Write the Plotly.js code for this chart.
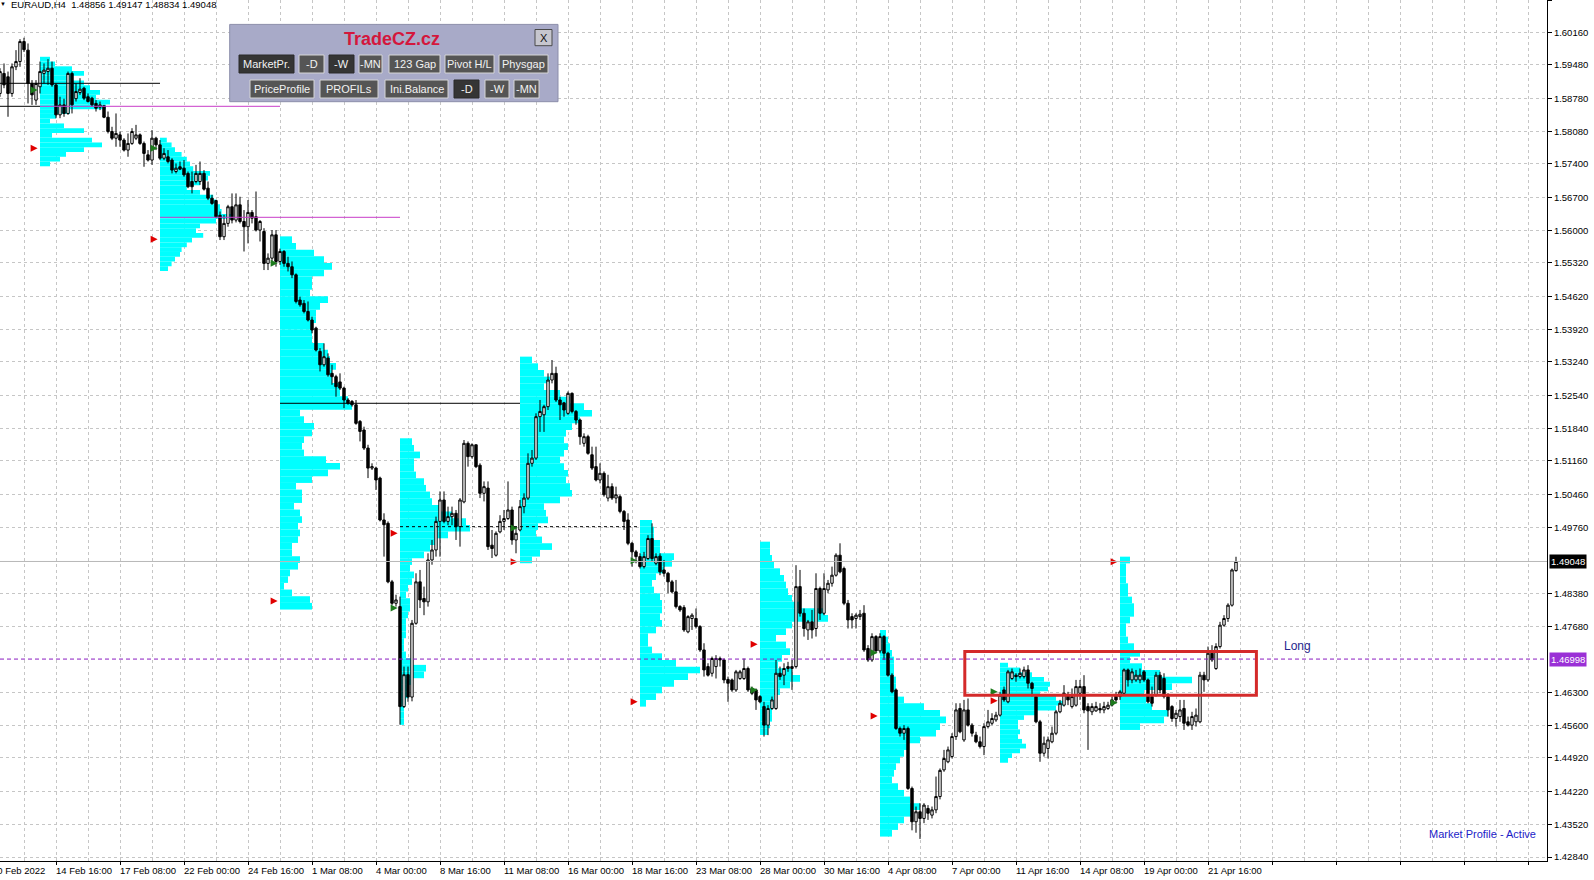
<!DOCTYPE html>
<html><head><meta charset="utf-8">
<script src="https://cdn.plot.ly/plotly-3.0.1.min.js"></script>
<style>html,body{margin:0;padding:0;background:#fff;overflow:hidden}#chart{width:1594px;height:880px}</style>
</head><body><div id="chart"></div>
<script>
// ---------------- DATA ----------------
const symbolName = 'EURAUD,H4';
const lastQuote = ['1.48856', '1.49147', '1.48834', '1.49048'];
const firstBar = 2; // index of first H4 bar in the arrays (10 Feb 2022 00:00 = 0)

const openP = [
1.5888,1.5930,1.5923,1.5888,1.5944,1.5955,1.5997,1.5979,1.5909,1.5874,
1.5902,1.5930,1.5934,1.5941,1.5906,1.5843,1.5864,1.5846,1.5930,1.5877,
1.5890,1.5899,1.5881,1.5878,1.5867,1.5859,1.5862,1.5838,1.5808,1.5794,
1.5801,1.5790,1.5769,1.5783,1.5794,1.5801,1.5783,1.5759,1.5748,1.5794,
1.5780,1.5752,1.5755,1.5748,1.5724,1.5734,1.5731,1.5720,1.5703,1.5703,
1.5703,1.5720,1.5689,1.5668,1.5663,1.5632,1.5587,1.5615,1.5650,1.5622,
1.5654,1.5619,1.5608,1.5638,1.5629,1.5601,1.5598,1.5531,1.5542,1.5591,
1.5535,1.5556,1.5531,1.5524,1.5507,1.5454,1.5447,1.5430,1.5412,1.5395,
1.5346,1.5318,1.5332,1.5300,1.5293,1.5282,1.5269,1.5244,1.5241,1.5234,
1.5199,1.5181,1.5143,1.5101,1.5101,1.5080,1.4992,1.4985,1.4862,1.4817,
1.4810,1.4600,1.4667,1.4620,1.4775,1.4862,1.4827,1.4820,1.4908,1.4929,
1.4989,1.5034,1.4989,1.4999,1.5006,1.4978,1.5030,1.5153,1.5125,1.5150,
1.5107,1.5048,1.5059,1.4939,1.4918,1.4967,1.4989,1.4995,1.5013,1.4950,
1.4971,1.5020,1.5038,1.5111,1.5122,1.5209,1.5213,1.5230,1.5286,1.5300,
1.5244,1.5238,1.5216,1.5258,1.5220,1.5202,1.5153,1.5167,1.5129,1.5104,
1.5076,1.5090,1.5038,1.5062,1.5038,1.5041,1.5010,1.4992,1.4943,1.4925,
1.4915,1.4894,1.4911,1.4953,1.4901,1.4916,1.4887,1.4880,1.4862,1.4841,
1.4810,1.4808,1.4757,1.4785,1.4785,1.4768,1.4719,1.4684,1.4670,1.4684,
1.4701,1.4698,1.4657,1.4656,1.4635,1.4659,1.4659,1.4680,1.4638,1.4635,
1.4621,1.4600,1.4561,1.4596,1.4596,1.4670,1.4666,1.4680,1.4680,1.4684,
1.4852,1.4796,1.4761,1.4778,1.4764,1.4848,1.4796,1.4845,1.4859,1.4876,
1.4918,1.4890,1.4817,1.4789,1.4785,1.4789,1.4796,1.4722,1.4698,1.4747,
1.4717,1.4747,1.4712,1.4666,1.4635,1.4554,1.4544,1.4554,1.4428,1.4358,
1.4379,1.4365,1.4386,1.4372,1.4383,1.4411,1.4467,1.4484,1.4495,1.4537,
1.4596,1.4530,1.4593,1.4561,1.4540,1.4526,1.4516,1.4558,1.4565,1.4572,
1.4582,1.4635,1.4610,1.4659,1.4666,1.4663,1.4663,1.4677,1.4649,1.4621,
1.4568,1.4502,1.4512,1.4526,1.4544,1.4589,1.4603,1.4624,1.4600,1.4603,
1.4628,1.4642,1.4600,1.4589,1.4591,1.4596,1.4593,1.4596,1.4603,1.4624,
1.4621,1.4628,1.4677,1.4656,1.4656,1.4656,1.4673,1.4656,1.4621,1.4624,
1.4666,1.4659,1.4621,1.4600,1.4575,1.4579,1.4596,1.4568,1.4561,1.4568,
1.4568,1.4666,1.4656,1.4712,1.4680,1.4726,1.4771,1.4785,1.4813,1.48856];

const highP = [
1.5941,1.5951,1.5934,1.5951,1.5979,1.6002,1.6005,1.5993,1.5916,1.5916,
1.5955,1.5951,1.5960,1.5955,1.5909,1.5881,1.5877,1.5934,1.5934,1.5909,
1.5920,1.5902,1.5888,1.5881,1.5874,1.5871,1.5864,1.5850,1.5818,1.5846,
1.5808,1.5794,1.5804,1.5815,1.5822,1.5804,1.5787,1.5769,1.5811,1.5797,
1.5790,1.5773,1.5769,1.5752,1.5741,1.5745,1.5748,1.5724,1.5724,1.5738,
1.5745,1.5727,1.5703,1.5675,1.5664,1.5640,1.5633,1.5654,1.5678,1.5678,
1.5671,1.5643,1.5664,1.5643,1.5682,1.5622,1.5605,1.5552,1.5601,1.5601,
1.5562,1.5559,1.5545,1.5535,1.5510,1.5461,1.5454,1.5451,1.5419,1.5398,
1.5353,1.5363,1.5342,1.5318,1.5297,1.5300,1.5272,1.5248,1.5244,1.5244,
1.5202,1.5188,1.5150,1.5111,1.5104,1.5083,1.5006,1.4989,1.4866,1.4835,
1.4831,1.4684,1.4684,1.4782,1.4880,1.4887,1.4852,1.4922,1.4950,1.4999,
1.5052,1.5052,1.5020,1.5020,1.5013,1.5038,1.5160,1.5157,1.5153,1.5150,
1.5111,1.5073,1.5073,1.4971,1.4968,1.5002,1.5013,1.5073,1.5020,1.4978,
1.5034,1.5048,1.5132,1.5139,1.5216,1.5244,1.5234,1.5300,1.5328,1.5314,
1.5251,1.5240,1.5262,1.5260,1.5223,1.5205,1.5174,1.5171,1.5146,1.5146,
1.5111,1.5094,1.5087,1.5069,1.5062,1.5045,1.5013,1.5006,1.4946,1.4929,
1.4922,1.4925,1.4960,1.4985,1.4922,1.4922,1.4908,1.4883,1.4866,1.4866,
1.4813,1.4813,1.4792,1.4796,1.4806,1.4771,1.4733,1.4691,1.4705,1.4708,
1.4705,1.4701,1.4663,1.4659,1.4677,1.4677,1.4701,1.4684,1.4642,1.4638,
1.4624,1.4610,1.4603,1.4621,1.4698,1.4684,1.4691,1.4694,1.4698,1.4897,
1.4887,1.4806,1.4782,1.4803,1.4880,1.4852,1.4880,1.4866,1.4894,1.4922,
1.4943,1.4894,1.4824,1.4796,1.4796,1.4803,1.4813,1.4729,1.4754,1.4750,
1.4754,1.4750,1.4715,1.4670,1.4638,1.4558,1.4561,1.4558,1.4432,1.4390,
1.4397,1.4397,1.4393,1.4390,1.4453,1.4470,1.4509,1.4516,1.4544,1.4607,
1.4607,1.4614,1.4617,1.4565,1.4547,1.4537,1.4565,1.4593,1.4586,1.4589,
1.4631,1.4642,1.4677,1.4680,1.4670,1.4680,1.4684,1.4687,1.4652,1.4624,
1.4572,1.4537,1.4537,1.4558,1.4593,1.4614,1.4645,1.4631,1.4638,1.4656,
1.4656,1.4666,1.4607,1.4607,1.4610,1.4607,1.4610,1.4610,1.4621,1.4631,
1.4635,1.4680,1.4680,1.4680,1.4677,1.4680,1.4677,1.4659,1.4642,1.4673,
1.4673,1.4670,1.4628,1.4603,1.4593,1.4614,1.4614,1.4579,1.4589,1.4596,
1.4673,1.4673,1.4726,1.4729,1.4733,1.4778,1.4792,1.4817,1.4890,1.49147];

const lowP = [
1.5881,1.5899,1.5839,1.5881,1.5937,1.5944,1.5975,1.5867,1.5864,1.5864,
1.5888,1.5909,1.5906,1.5902,1.5836,1.5836,1.5839,1.5843,1.5846,1.5871,
1.5885,1.5874,1.5869,1.5860,1.5850,1.5853,1.5836,1.5804,1.5790,1.5776,
1.5776,1.5766,1.5755,1.5780,1.5790,1.5780,1.5734,1.5745,1.5738,1.5769,
1.5748,1.5748,1.5741,1.5720,1.5720,1.5727,1.5713,1.5689,1.5678,1.5699,
1.5696,1.5684,1.5664,1.5654,1.5626,1.5580,1.5580,1.5608,1.5615,1.5617,
1.5615,1.5556,1.5573,1.5615,1.5598,1.5577,1.5517,1.5517,1.5531,1.5524,
1.5528,1.5524,1.5514,1.5500,1.5447,1.5440,1.5426,1.5409,1.5384,1.5346,
1.5304,1.5314,1.5293,1.5276,1.5251,1.5265,1.5227,1.5234,1.5230,1.5192,
1.5157,1.5139,1.5080,1.5097,1.5055,1.4989,1.4915,1.4859,1.4813,1.4810,
1.4562,1.4597,1.4610,1.4611,1.4772,1.4807,1.4792,1.4810,1.4898,1.4915,
1.4915,1.4985,1.4981,1.4981,1.4950,1.4936,1.5027,1.5104,1.5121,1.5101,
1.5038,1.5031,1.4929,1.4912,1.4915,1.4964,1.4971,1.4992,1.4940,1.4922,
1.4968,1.5006,1.5034,1.5104,1.5118,1.5177,1.5177,1.5223,1.5279,1.5240,
1.5202,1.5209,1.5213,1.5216,1.5192,1.5150,1.5146,1.5129,1.5097,1.5073,
1.5069,1.5041,1.5031,1.5034,1.5027,1.5006,1.4971,1.4939,1.4894,1.4901,
1.4890,1.4890,1.4908,1.4904,1.4897,1.4876,1.4873,1.4838,1.4838,1.4806,
1.4799,1.4757,1.4754,1.4761,1.4764,1.4715,1.4663,1.4663,1.4663,1.4659,
1.4684,1.4649,1.4610,1.4631,1.4631,1.4656,1.4656,1.4631,1.4624,1.4593,
1.4607,1.4537,1.4540,1.4593,1.4593,1.4656,1.4645,1.4673,1.4635,1.4680,
1.4789,1.4747,1.4740,1.4743,1.4747,1.4782,1.4792,1.4838,1.4852,1.4873,
1.4880,1.4813,1.4764,1.4764,1.4764,1.4782,1.4715,1.4694,1.4694,1.4712,
1.4712,1.4698,1.4663,1.4628,1.4551,1.4537,1.4530,1.4425,1.4340,1.4335,
1.4322,1.4355,1.4362,1.4365,1.4376,1.4405,1.4463,1.4481,1.4491,1.4530,
1.4544,1.4526,1.4558,1.4537,1.4523,1.4512,1.4498,1.4554,1.4561,1.4568,
1.4579,1.4610,1.4607,1.4656,1.4652,1.4659,1.4659,1.4638,1.4621,1.4565,
1.4484,1.4495,1.4491,1.4523,1.4540,1.4586,1.4600,1.4603,1.4596,1.4600,
1.4614,1.4586,1.4509,1.4582,1.4589,1.4586,1.4586,1.4593,1.4600,1.4607,
1.4614,1.4624,1.4642,1.4649,1.4652,1.4649,1.4652,1.4607,1.4600,1.4621,
1.4628,1.4617,1.4579,1.4568,1.4558,1.4568,1.4551,1.4558,1.4551,1.4558,
1.4565,1.4631,1.4652,1.4694,1.4677,1.4722,1.4768,1.4778,1.4810,1.48834];

const closeP = [
1.5934,1.5906,1.5888,1.5944,1.5955,1.5997,1.5980,1.5909,1.5885,1.5909,
1.5934,1.5937,1.5941,1.5906,1.5843,1.5864,1.5846,1.5930,1.5864,1.5892,
1.5897,1.5878,1.5871,1.5864,1.5857,1.5864,1.5838,1.5808,1.5794,1.5804,
1.5790,1.5769,1.5783,1.5808,1.5801,1.5783,1.5762,1.5748,1.5794,1.5780,
1.5752,1.5762,1.5745,1.5727,1.5731,1.5729,1.5717,1.5692,1.5692,1.5720,
1.5720,1.5687,1.5668,1.5657,1.5629,1.5587,1.5615,1.5650,1.5622,1.5654,
1.5619,1.5608,1.5638,1.5626,1.5601,1.5619,1.5531,1.5542,1.5591,1.5535,
1.5556,1.5531,1.5524,1.5507,1.5451,1.5444,1.5430,1.5412,1.5391,1.5349,
1.5318,1.5335,1.5297,1.5293,1.5272,1.5269,1.5244,1.5237,1.5234,1.5195,
1.5178,1.5143,1.5101,1.5104,1.5076,1.4992,1.4982,1.4862,1.4817,1.4824,
1.4600,1.4667,1.4620,1.4775,1.4862,1.4824,1.4820,1.4908,1.4929,1.4989,
1.5034,1.4989,1.4999,1.5006,1.4978,1.5034,1.5153,1.5125,1.5150,1.5104,
1.5048,1.5062,1.4936,1.4932,1.4964,1.4989,1.4995,1.5013,1.4950,1.4964,
1.5020,1.5038,1.5111,1.5122,1.5209,1.5220,1.5230,1.5286,1.5300,1.5244,
1.5234,1.5223,1.5258,1.5220,1.5202,1.5167,1.5167,1.5132,1.5101,1.5076,
1.5090,1.5045,1.5062,1.5038,1.5045,1.5010,1.4989,1.4943,1.4925,1.4915,
1.4894,1.4915,1.4953,1.4911,1.4915,1.4883,1.4880,1.4862,1.4841,1.4810,
1.4803,1.4761,1.4789,1.4792,1.4768,1.4719,1.4677,1.4666,1.4701,1.4701,
1.4698,1.4656,1.4649,1.4635,1.4673,1.4673,1.4680,1.4635,1.4628,1.4614,
1.4610,1.4561,1.4596,1.4614,1.4670,1.4663,1.4680,1.4684,1.4684,1.4852,
1.4796,1.4764,1.4778,1.4761,1.4848,1.4796,1.4848,1.4859,1.4876,1.4918,
1.4883,1.4817,1.4782,1.4782,1.4792,1.4794,1.4719,1.4698,1.4747,1.4717,
1.4747,1.4712,1.4666,1.4631,1.4554,1.4544,1.4554,1.4428,1.4358,1.4379,
1.4365,1.4393,1.4376,1.4383,1.4411,1.4466,1.4491,1.4509,1.4537,1.4593,
1.4547,1.4593,1.4561,1.4544,1.4526,1.4516,1.4558,1.4568,1.4575,1.4582,
1.4624,1.4614,1.4673,1.4673,1.4663,1.4670,1.4677,1.4649,1.4638,1.4568,
1.4502,1.4523,1.4530,1.4544,1.4589,1.4607,1.4628,1.4614,1.4621,1.4642,
1.4642,1.4593,1.4591,1.4600,1.4600,1.4593,1.4600,1.4603,1.4614,1.4614,
1.4631,1.4677,1.4656,1.4673,1.4666,1.4666,1.4656,1.4610,1.4607,1.4666,
1.4635,1.4621,1.4593,1.4575,1.4586,1.4593,1.4565,1.4561,1.4579,1.4582,
1.4666,1.4656,1.4712,1.4698,1.4726,1.4771,1.4785,1.4813,1.4887,1.49048];

// time axis labels (one every 16 H4 bars, starting at bar 0)
const dateLabels = ['10 Feb 2022','14 Feb 16:00','17 Feb 08:00','22 Feb 00:00','24 Feb 16:00',
  '1 Mar 08:00','4 Mar 00:00','8 Mar 16:00','11 Mar 08:00','16 Mar 00:00','18 Mar 16:00',
  '23 Mar 08:00','28 Mar 00:00','30 Mar 16:00','4 Apr 08:00','7 Apr 00:00','11 Apr 16:00',
  '14 Apr 08:00','19 Apr 00:00','21 Apr 16:00'];
const dateLabelEvery = 16;

// price axis labels
const priceTickVals = [1.60840,1.60160,1.59480,1.58780,1.58080,1.57400,1.56700,1.56000,1.55320,1.54620,
  1.53920,1.53240,1.52540,1.51840,1.51160,1.50460,1.49760,1.48380,1.47680,1.46300,1.45600,1.44920,
  1.44220,1.43520,1.42840];
const priceTickText = ['1.60860','1.60160','1.59480','1.58780','1.58080','1.57400','1.56700','1.56000',
  '1.55320','1.54620','1.53920','1.53240','1.52540','1.51840','1.51160','1.50460','1.49760','1.48380',
  '1.47680','1.46300','1.45600','1.44920','1.44220','1.43520','1.42840'];

// weekly market profiles
const profileStart = [12, 42, 72, 102, 132, 162, 192, 222, 252, 282];
const profileTop   = [1.5960, 1.5790, 1.55808, 1.51566, 1.53281, 1.49849, 1.49394, 1.47539, 1.4687, 1.49079];
const profileStep  = [0.0010, 0.0010, 0.0014, 0.0014, 0.0014, 0.0014, 0.0014, 0.0014, 0.0010, 0.0014];
const profile1  = [2.5,3.75,8,11,8,11,12.5,15,14,17.5,16.5,7.5,4,2.5,6,11,3,13,15.5,11,6.5,5,2.5];
const profile2  = [1.7,2.9,3.75,5.4,6.7,7.5,8.3,12.5,12,10,6.7,10,13.3,14,15,15.4,18.3,14,10,9,10.8,8,6.7,5.4,5,3.75,2.9,2];
const profile3  = [3,4,8.5,11,13,11,8,8,7.5,12,10,9,9,8,8,8,11,12,12.5,14,13,13,15,15,17,18,5,6,8.5,8,6,5.5,6,11.5,15,12,8,4,5.5,5.5,3.5,5,5.5,4.5,5,4.5,3,3,5,4.5,2.5,2,1,3,7.5,8];
const profile4  = [3,3.5,5,3.5,3.5,4,6,6.5,7.5,8,10,13,16.5,17.5,12,9,7.5,6,3,2.5,3.5,3,2,1.5,2.5,2.5,2,1.5,1.5,1.5,1,1,1.5,3,6.5,6,3,2,2,1.5,1,1,1];
const profile5  = [3,4.5,6,7.5,6,10,12.5,16,18,15,13,11.5,11,12,11,10,11,12,11.5,12.5,13,10,6,6.5,7,4.5,4,5.5,8,5,3];
const profile6  = [3,3.5,3.5,5,5,8.5,8,6,4,3,3.5,5,5.5,5.5,5,5.5,4,2,2,3,5.5,9,15,12,8.5,5.5,4,1.5];
const profile7  = [2.5,2.5,3,3.5,5,6,6.5,7,8,10,16,17,8,6.5,4,6.5,7.5,5.5,4.5,8,10,7.5,5,3.5,3.5,3,3,2.5,2];
const profile8  = [1.5,2,2.5,3,3.5,3.5,3.5,4,4,4,6,11,15,16.5,15,14,10,7,6,5,4,3.5,3,4.5,6,7.5,10,8,6,4.5,3];
const profile9  = [2,5,8,11,12.5,12,10,14,16,14,9,6,4.5,4.5,5,4.5,5.5,6.5,5,3,2];
const profile10 = [2.5,1.5,1.5,1.5,2,2,3,3.5,3.5,2.5,1.5,1.5,2,3.5,5,2.5,5.5,10,18,13,6,6.5,8,12,11,5];
const profileWidths = [profile1,profile2,profile3,profile4,profile5,profile6,profile7,profile8,profile9,profile10];

// weekly open / reference arrows
const greenArrowPrice = [1.58952,1.57728,1.55312,1.48071,1.49751,1.49064,1.46348,1.47132,1.46312,1.46081];
const redArrowPrice   = [1.57728,1.55816,1.48218,1.49640,1.49043,1.46102,1.47308,1.45802,1.46123,1.49043];

// POC / level lines (price, from bar, to bar)
const pocPrice = [1.59093, 1.58610, 1.58610, 1.56278, 1.52371, 1.49779];
const pocFrom  = [2, 2, 12, 42, 72, 102];
const pocTo    = [42, 12, 72, 102, 132, 162];
const pocKind  = ['black','black','magenta','magenta','black','dashed'];

const currentPrice = 1.49048;
const alertLevel = 1.46998;

// drawn zone + label
const zoneFrom = 243.2, zoneTo = 316.1, zoneLow = 1.46237, zoneHigh = 1.47155;
const longLabel = 'Long', longBar = 322.5, longPrice = 1.4728;
const statusText = 'Market Profile - Active';

// control panel
const panelTitle = 'TradeCZ.cz';
const panelRow1 = ['MarketPr.','-D','-W','-MN','123 Gap','Pivot H/L','Physgap'];
const panelRow2 = ['PriceProfile','PROFILs','Ini.Balance','-D','-W','-MN'];

// ---------------- LAYOUT GEOMETRY ----------------
const PW = 1547, PH = 861;
const xr = [2, 388.75], yr = [1.42756, 1.60843];
const px = v => v / PW;
const py = v => 1 - v / PH;
const xPaper = i => (i - xr[0]) / (xr[1] - xr[0]);
const FONT = 'Liberation Sans, Arial, sans-serif';

const traces = [];
profileStart.forEach((s, p) => {
  const w = profileWidths[p];
  traces.push({
    type: 'bar', orientation: 'h',
    y: w.map((_, k) => profileTop[p] - k * profileStep[p]),
    x: w, base: s, width: profileStep[p],
    marker: {color: '#00ffff', line: {width: 0}},
    hoverinfo: 'skip', showlegend: false
  });
});

traces.push({
  type: 'candlestick',
  x: openP.map((_, k) => firstBar + k),
  open: openP, high: highP, low: lowP, close: closeP,
  increasing: {line: {color: '#000000', width: 1}, fillcolor: '#ffffff'},
  decreasing: {line: {color: '#000000', width: 1}, fillcolor: '#000000'},
  whiskerwidth: 0, hoverinfo: 'skip', showlegend: false
});

traces.push({
  type: 'scatter', mode: 'markers',
  x: profileStart.map(s => s - 0.6), y: redArrowPrice,
  marker: {symbol: 'arrow-right', size: 7, color: '#e00000', line: {width: 0}},
  hoverinfo: 'skip', showlegend: false
});
traces.push({
  type: 'scatter', mode: 'markers',
  x: profileStart.map(s => s - 0.6), y: greenArrowPrice,
  marker: {symbol: 'arrow-right', size: 7, color: '#1c7a1c', line: {width: 0}},
  hoverinfo: 'skip', showlegend: false
});

const shapes = [];
pocPrice.forEach((p, k) => {
  const kind = pocKind[k];
  shapes.push({type: 'line', xref: 'x', yref: 'y', x0: pocFrom[k], x1: pocTo[k], y0: p, y1: p,
    line: {color: kind === 'magenta' ? '#c83cc8' : '#000000', width: 1, dash: kind === 'dashed' ? '3px,3px' : 'solid'},
    layer: 'above'});
});
shapes.push({type: 'line', xref: 'paper', yref: 'y', x0: 0, x1: 1, y0: currentPrice, y1: currentPrice,
  line: {color: '#b8b8b8', width: 1}, layer: 'above'});
shapes.push({type: 'line', xref: 'paper', yref: 'y', x0: 0, x1: 1, y0: alertLevel, y1: alertLevel,
  line: {color: '#8a1cc0', width: 1, dash: '4px,3px'}, layer: 'above'});
shapes.push({type: 'rect', xref: 'x', yref: 'y', x0: zoneFrom, x1: zoneTo, y0: zoneLow, y1: zoneHigh,
  line: {color: '#d42a2a', width: 3}, fillcolor: 'rgba(0,0,0,0)', layer: 'above'});

// panel
shapes.push({type: 'rect', xref: 'paper', yref: 'paper', x0: px(229.7), x1: px(558), y0: py(101.7), y1: py(24.4),
  fillcolor: '#a8aac8', line: {color: '#8c8eab', width: 1}, layer: 'above'});
const annotations = [];
const row1X = [[239,294],[299,324],[329,354],[359,382],[389,440],[445,494],[499,548]];
const row2X = [[250,314],[320,378],[385,448],[454,479],[485,509],[514,539]];
const row1Pressed = [true,false,true,false,false,false,false];
const row2Pressed = [false,false,false,true,false,false];
function addButtons(labels, xs, pressed, y0, y1) {
  labels.forEach((t, k) => {
    shapes.push({type: 'rect', xref: 'paper', yref: 'paper', x0: px(xs[k][0]), x1: px(xs[k][1]), y0: py(y1), y1: py(y0),
      fillcolor: pressed[k] ? '#353535' : '#555555', line: {color: pressed[k] ? '#2a2a2a' : '#d6d6d6', width: 1}, layer: 'above'});
    annotations.push({xref: 'paper', yref: 'paper', x: px((xs[k][0] + xs[k][1]) / 2), y: py((y0 + y1) / 2),
      text: t, showarrow: false, font: {family: FONT, size: 11, color: '#f2f2f2'}, xanchor: 'center', yanchor: 'middle'});
  });
}
addButtons(panelRow1, row1X, row1Pressed, 55, 73);
addButtons(panelRow2, row2X, row2Pressed, 80, 98);
shapes.push({type: 'rect', xref: 'paper', yref: 'paper', x0: px(535), x1: px(552), y0: py(45.7), y1: py(29.5),
  fillcolor: '#c6c6ce', line: {color: '#4a4a4a', width: 1}, layer: 'above'});
annotations.push({xref: 'paper', yref: 'paper', x: px(543.5), y: py(37.6), text: 'X', showarrow: false,
  font: {family: FONT, size: 11, color: '#111'}, xanchor: 'center', yanchor: 'middle'});
annotations.push({xref: 'paper', yref: 'paper', x: px(392), y: py(38.6), text: '<b>' + panelTitle + '</b>', showarrow: false,
  font: {family: FONT, size: 18, color: '#d4173c'}, xanchor: 'center', yanchor: 'middle'});

// header
annotations.push({xref: 'paper', yref: 'paper', x: px(-2), y: py(4.5), text: '▼', showarrow: false,
  font: {family: FONT, size: 6, color: '#000'}, xanchor: 'left', yanchor: 'middle'});
annotations.push({xref: 'paper', yref: 'paper', x: px(9), y: py(4.5),
  text: symbolName + '  ' + lastQuote.join(' '), showarrow: false,
  font: {family: FONT, size: 9.5, color: '#000'}, xanchor: 'left', yanchor: 'middle'});

// date labels
dateLabels.forEach((t, k) => {
  annotations.push({xref: 'paper', yref: 'paper', x: xPaper(k * dateLabelEvery), y: 0, xanchor: 'left', yanchor: 'top',
    xshift: -2, yshift: -2, text: t, showarrow: false, font: {family: FONT, size: 9.5, color: '#000'}});
});

// price boxes on axis
annotations.push({xref: 'paper', yref: 'y', x: px(1548.5), y: currentPrice, xanchor: 'left', yanchor: 'middle',
  text: currentPrice.toFixed(5), showarrow: false, bgcolor: '#000000', borderpad: 1,
  font: {family: FONT, size: 9.5, color: '#ffffff'}});
annotations.push({xref: 'paper', yref: 'y', x: px(1548.5), y: alertLevel, xanchor: 'left', yanchor: 'middle',
  text: alertLevel.toFixed(5), showarrow: false, bgcolor: '#9a30d6', borderpad: 1,
  font: {family: FONT, size: 9.5, color: '#ffffff'}});

annotations.push({xref: 'x', yref: 'y', x: longBar, y: longPrice, xanchor: 'left', yanchor: 'middle',
  text: longLabel, showarrow: false, font: {family: FONT, size: 12, color: '#26268c'}});
annotations.push({xref: 'paper', yref: 'paper', x: px(1538), y: py(833.6), xanchor: 'right', yanchor: 'middle',
  text: statusText, showarrow: false, font: {family: FONT, size: 11, color: '#1c1cc8'}});

const gridStyle = {gridcolor: '#c6c6c6', griddash: '3px,3px', gridwidth: 1};
const layout = {
  width: 1594, height: 880,
  margin: {l: 0, r: 47, t: 0, b: 19, pad: 0},
  paper_bgcolor: '#ffffff', plot_bgcolor: '#ffffff',
  showlegend: false, barmode: 'overlay', hovermode: false, dragmode: false,
  boxgap: 0.4, boxgroupgap: 0,
  font: {family: FONT, size: 9.5, color: '#000'},
  xaxis: Object.assign({
    type: 'linear', range: xr, fixedrange: true, showgrid: true,
    tick0: 0, dtick: dateLabelEvery, ticks: 'outside', ticklen: 3, tickcolor: '#000',
    showticklabels: false, showline: true, linecolor: '#000', linewidth: 1, zeroline: false,
    rangeslider: {visible: false},
    minor: Object.assign({tick0: 0, dtick: dateLabelEvery / 2, showgrid: true, ticks: ''}, gridStyle)
  }, gridStyle),
  yaxis: Object.assign({
    side: 'right', range: yr, fixedrange: true, tickmode: 'array',
    tickvals: priceTickVals, ticktext: priceTickText, showgrid: true,
    ticks: 'outside', ticklen: 4, tickcolor: '#000', showline: true, linecolor: '#000', linewidth: 1,
    zeroline: false, tickfont: {family: FONT, size: 9.5, color: '#000'}
  }, gridStyle),
  shapes: shapes,
  annotations: annotations
};

Plotly.newPlot('chart', traces, layout, {staticPlot: true, displayModeBar: false});
</script>
</body></html>
